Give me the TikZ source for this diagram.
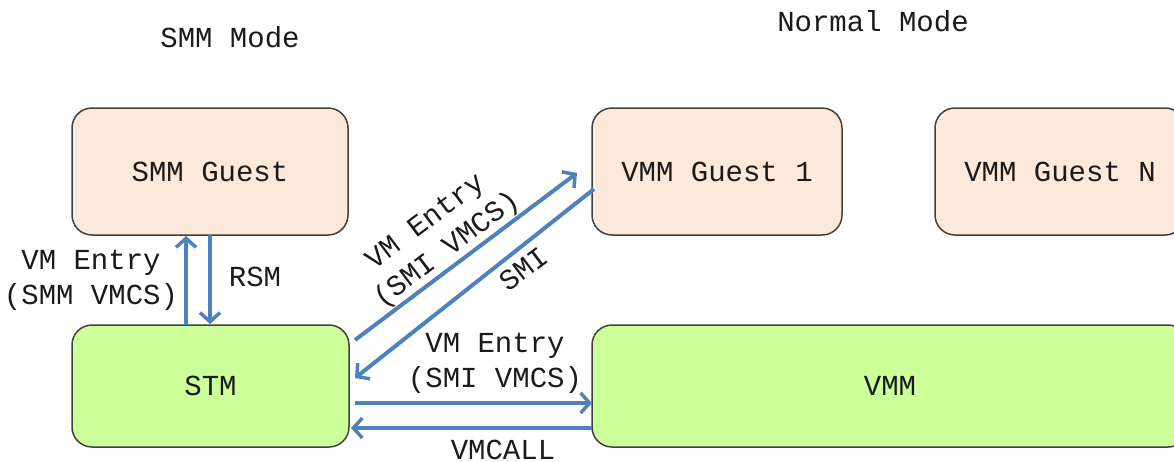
\documentclass[tikz,border=0pt]{standalone}
\usepackage{fontspec}
\setmainfont{Liberation Mono}
\usetikzlibrary{arrows.meta}
\definecolor{peach}{HTML}{FCE9DA}
\definecolor{lgreen}{HTML}{CCFF99}
\definecolor{arrowblue}{HTML}{4F81BD}
\definecolor{boxline}{HTML}{404040}
\definecolor{txt}{HTML}{1A1A1A}
\tikzset{
  every node/.style={font=\fontsize{29}{35}\selectfont, text=txt},
  box/.style={draw=boxline, line width=1.5pt, rounded corners=20pt, inner sep=0pt},
  guest/.style={box, fill=peach, minimum height=127pt},
  core/.style={box, fill=lgreen, minimum height=122pt},
  conn/.style={draw=arrowblue, line width=4pt, -{Straight Barb[length=9pt,width=20pt,line width=3.5pt]}},
  lbl/.style={align=center, inner sep=0pt}
}
\begin{document}
\begin{tikzpicture}[x=1pt,y=-1pt]
\useasboundingbox (0,0) rectangle (1174,461);
\clip (0,0) rectangle (1174,461);
% titles
\node[lbl] (t1) at (230,37) {SMM Mode};
\node[lbl] (t2) at (873,21) {Normal Mode};
% boxes
\node[guest, minimum width=276pt] (smmg) at (210,171.5) {SMM Guest};
\node[core, minimum width=277pt] (stm) at (210.5,386) {STM};
\node[guest, minimum width=250pt] (vg1) at (717,171.5) {VMM Guest 1};
\node[guest, minimum width=250pt] (vgn) at (1060,171.5) {VMM Guest N};
\node[core, minimum width=596pt] (vmm) at (890,386) {VMM};
% vertical arrows
\coordinate (a1s) at (186,325);
\coordinate (a1e) at (186,236);
\coordinate (a2s) at (210,235);
\coordinate (a2e) at (210,324);
\draw[conn] (a1s) -- (a1e);
\draw[conn] (a2s) -- (a2e);
\node[lbl] (l1) at (91,280) {VM Entry\\(SMM VMCS)};
\node[lbl] (l2) at (255,277) {RSM};
% diagonal arrows
\coordinate (d1s) at (355,340);
\coordinate (d1e) at (577,173);
\coordinate (d2s) at (594,189);
\coordinate (d2e) at (355,378);
\draw[conn] (d1s) -- (d1e);
\draw[conn] (d2s) -- (d2e);
\node[lbl, rotate=37] (l3) at (437,237) {VM Entry\\(SMI VMCS)};
\node[lbl, rotate=37] (l4) at (524,269) {SMI};
% horizontal arrows
\coordinate (h1s) at (355,403);
\coordinate (h1e) at (592,403);
\coordinate (h2s) at (592,428);
\coordinate (h2e) at (351,428);
\draw[conn] (h1s) -- (h1e);
\draw[conn] (h2s) -- (h2e);
\node[lbl] (l5) at (495,363) {VM Entry\\(SMI VMCS)};
\node[lbl] (l6) at (503,450) {VMCALL};
\end{tikzpicture}
\end{document}
